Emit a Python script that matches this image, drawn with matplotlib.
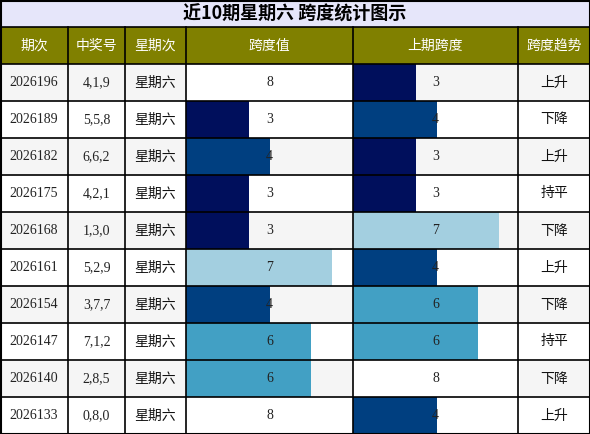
import matplotlib
matplotlib.use("Agg")
import matplotlib.pyplot as plt
from matplotlib.patches import Rectangle

periods = ["2026196","2026189","2026182","2026175","2026168","2026161","2026154","2026147","2026140","2026133"]
numbers = ["4,1,9","5,5,8","6,6,2","4,2,1","1,3,0","5,2,9","3,7,7","7,1,2","2,8,5","0,8,0"]
weekday = ["星期六"]*10
span = [8,3,4,3,3,7,4,6,6,8]
prev_span = [3,4,3,3,7,4,6,6,8,4]
trend = ["上升","下降","上升","持平","下降","上升","下降","持平","下降","上升"]
headers = ["期次","中奖号","星期次","跨度值","上期跨度","跨度趋势"]
title = "近10期星期六 跨度统计图示"

colors = {3:"#000f5c",4:"#003f80",6:"#42a0c4",7:"#a3cfe0",8:"#ffffff"}
cjk = ["Noto Sans CJK SC","DejaVu Sans"]
serif = ["Liberation Serif","DejaVu Serif"]

W,H = 590,434
fig = plt.figure(figsize=(5.9,4.34),dpi=100)
ax = fig.add_axes([0,0,1,1])
ax.set_xlim(0,W); ax.set_ylim(H,0); ax.axis("off")

xs = [0,68,125,186,353,518,590]
top_t, top_h, top_r = 0,27,64
rh = (H-top_r)/10

ax.add_patch(Rectangle((0,0),W,top_h,fc="#e6e6fa",ec="none"))
ax.text(W/2,top_h/2+1,title,ha="center",va="center",fontsize=13,fontweight="bold",family=cjk)
ax.add_patch(Rectangle((0,top_h),W,top_r-top_h,fc="#808000",ec="none"))
for i,h in enumerate(headers):
    ax.text((xs[i]+xs[i+1])/2,(top_h+top_r)/2,h,ha="center",va="center",fontsize=10,color="white",family=cjk)

unit = (xs[4]-xs[3])/8
for r in range(10):
    y0 = top_r + r*rh
    bg = "#f5f5f5" if r%2==0 else "#ffffff"
    ax.add_patch(Rectangle((0,y0),W,rh,fc=bg,ec="none"))
    for col,val in ((3,span[r]),(4,prev_span[r])):
        ax.add_patch(Rectangle((xs[col],y0),val*unit,rh,fc=colors[val],ec="none"))
        ax.text((xs[col]+xs[col+1])/2,y0+rh/2,str(val),ha="center",va="center",fontsize=10,family=serif,color="#222222")
    ax.text((xs[0]+xs[1])/2,y0+rh/2,periods[r],ha="center",va="center",fontsize=10,family=serif,color="#222222")
    ax.text((xs[1]+xs[2])/2,y0+rh/2,numbers[r],ha="center",va="center",fontsize=10,family=serif,color="#222222")
    ax.text((xs[2]+xs[3])/2,y0+rh/2,weekday[r],ha="center",va="center",fontsize=10,family=cjk,color="#111111")
    ax.text((xs[5]+xs[6])/2,y0+rh/2,trend[r],ha="center",va="center",fontsize=10,family=cjk,color="#111111")

lw=1.2
for x in xs[1:-1]:
    ax.plot([x,x],[top_h,H],color="black",lw=lw)
ax.plot([0,W],[top_h,top_h],color="black",lw=lw)
for r in range(11):
    y = top_r + r*rh
    ax.plot([0,W],[y,y],color="black",lw=lw)
ax.add_patch(Rectangle((0.5,0.5),W-1,H-1,fc="none",ec="black",lw=1.5))
fig.savefig("out.png",dpi=100)
